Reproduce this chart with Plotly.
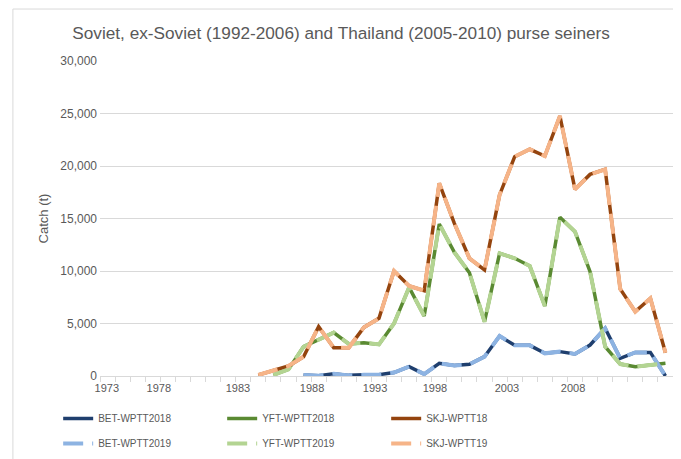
import plotly.graph_objects as go

# years shown on the category axis
years = list(range(1973, 2011))

# catches (t), 1983-2010; earlier years empty
skj = [None] * 10 + [100, 500, 950, 1840, 4700, 2700, 2700, 4630, 5490, 10000,
                     8570, 8130, 18350, 14540, 11210, 10100, 17240, 20890, 21590, 20950,
                     24760, 17780, 19200, 19680, 8290, 6130, 7400, 2220]
yft = [None] * 11 + [100, 630, 2790, 3490, 4130, 3050, 3170, 3010, 5010,
                     8440, 5710, 14480, 11780, 9840, 5170, 11680, 11210, 10480, 6670,
                     15110, 13750, 9940, 2790, 1140, 890, 1050, 1210]
bet = [None] * 13 + [100, 30, 220, 60, 110, 130, 330,
                     890, 180, 1210, 1000, 1120, 1840, 3810, 2920, 2920, 2160,
                     2320, 2100, 2950, 4540, 1680, 2250, 2250, 0]

tick_labels = ["1973", "1978", "1983", "1988", "1993", "1998", "2003", "2008"]
tick_pos = [1972.95, 1976.4, 1981.65, 1986.56, 1990.74, 1994.71, 1999.49, 2003.87]

FONT = "Liberation Sans, Arial, sans-serif"
GREY = "#595959"

series = [
    ("BET-WPTT2018", bet, "#1f3f6e", "solid", "legend"),
    ("YFT-WPTT2018", yft, "#5a8a32", "solid", "legend"),
    ("SKJ-WPTT18", skj, "#94440e", "solid", "legend"),
    ("BET-WPTT2019", bet, "#8db3e2", "20px,9px", "legend2"),
    ("YFT-WPTT2019", yft, "#b3d492", "20px,9px", "legend2"),
    ("SKJ-WPTT19", skj, "#f6b488", "20px,9px", "legend2"),
]

fig = go.Figure()
for name, vals, color, dash, leg in series:
    fig.add_trace(go.Scatter(
        x=years, y=vals, name=name, mode="lines", legend=leg,
        line=dict(color=color, width=4 if dash != "solid" else 3.5, dash=dash),
        connectgaps=False,
    ))

legend_style = dict(
    orientation="h", x=-0.073, xanchor="left", yanchor="top",
    entrywidth=119, entrywidthmode="pixels",
    font=dict(family=FONT, size=10, color=GREY),
    itemwidth=30, bgcolor="rgba(0,0,0,0)",
)

# page body has an 8px margin, so the figure is drawn offset by 8px;
# the figure is taller than the window so the legends don't squeeze the plot
fig.update_layout(
    width=673, height=470,
    margin=dict(l=92, r=8, t=53, b=102),
    paper_bgcolor="white", plot_bgcolor="white",
    font=dict(family=FONT, size=12, color=GREY),
    title=dict(
        text="Soviet, ex-Soviet (1992-2006) and Thailand (2005-2010) purse seiners",
        font=dict(family=FONT, size=17.2, color=GREY),
        x=0.495, xanchor="center", y=1 - 25 / 470, yanchor="middle",
    ),
    showlegend=True,
    legend=dict(legend_style, y=-0.089),
    legend2=dict(legend_style, y=-0.168),
    shapes=[dict(
        type="rect", xref="paper", yref="paper",
        x0=-0.152, x1=1.05, y0=-0.35, y1=1.165,
        line=dict(color="#d9d9d9", width=1), fillcolor="rgba(0,0,0,0)", layer="below",
    )],
)

fig.update_xaxes(
    range=[1972.5, 2010.5], automargin=False,
    tickvals=tick_pos, ticktext=tick_labels, ticks="", ticklabelstandoff=2,
    showgrid=False, zeroline=False,
    showline=True, linecolor="#d9d9d9", linewidth=1,
    minor=dict(ticks="outside", dtick=1, tick0=1972.5, ticklen=5,
               tickcolor="#d9d9d9", showgrid=False),
    tickfont=dict(family=FONT, size=11, color=GREY),
)
fig.update_yaxes(
    range=[0, 30000], dtick=5000, tickformat=",", automargin=False,
    showgrid=True, gridcolor="#d9d9d9", gridwidth=1,
    zeroline=False, showline=False, ticks="", ticklen=0, ticklabelstandoff=2,
    title=dict(text="Catch (t)", font=dict(family=FONT, size=13, color=GREY), standoff=8),
    tickfont=dict(family=FONT, size=12, color=GREY),
)

fig.write_html("out.html")
